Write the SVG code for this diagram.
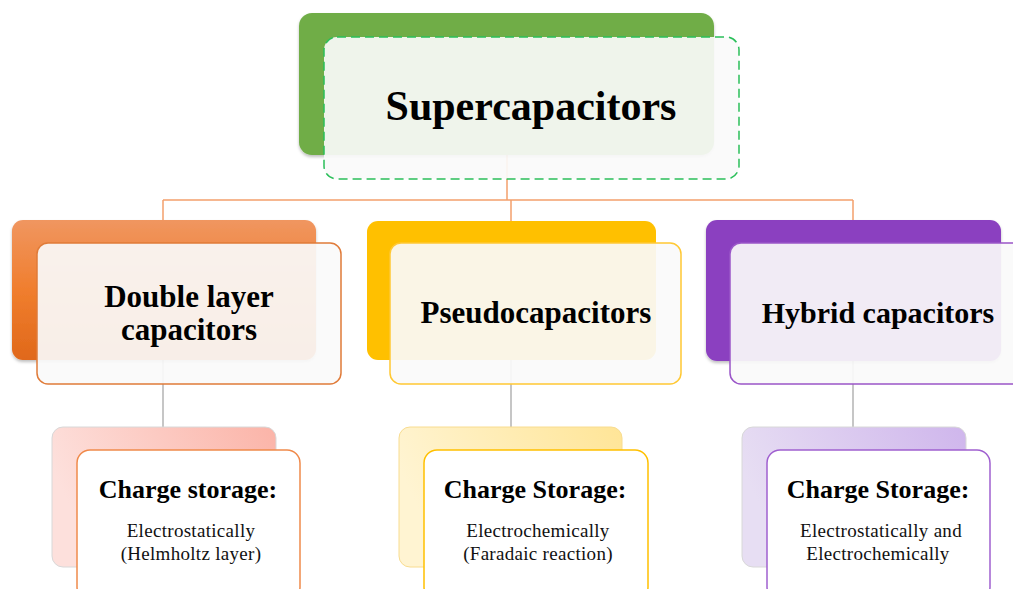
<svg xmlns="http://www.w3.org/2000/svg" width="1013" height="589" viewBox="0 0 1013 589">
<defs>
<linearGradient id="gOrange" x1="0" y1="0" x2="0" y2="1"><stop offset="0" stop-color="#f09660"/><stop offset="0.5" stop-color="#f07e2e"/><stop offset="1" stop-color="#e0681a"/></linearGradient>
<linearGradient id="gPink" x1="0" y1="0.3" x2="1" y2="0"><stop offset="0" stop-color="#fde0dc"/><stop offset="1" stop-color="#fbb4a8"/></linearGradient>
<linearGradient id="gYellow" x1="0" y1="0.3" x2="1" y2="0"><stop offset="0" stop-color="#fff4d2"/><stop offset="1" stop-color="#ffe597"/></linearGradient>
<linearGradient id="gPurple" x1="0" y1="0.3" x2="1" y2="0"><stop offset="0" stop-color="#e7def3"/><stop offset="1" stop-color="#cfb6ec"/></linearGradient>
<filter id="sh" x="-5%" y="-5%" width="110%" height="115%"><feDropShadow dx="0" dy="2" stdDeviation="1.5" flood-color="#000" flood-opacity="0.25"/></filter>
</defs>
<style>
.front{fill:#fafafa;fill-opacity:0.92;stroke-width:1.5}
.f3{fill:#ffffff;stroke-width:1.5}
.t1{font-family:"Liberation Serif","Times New Roman",serif;font-weight:bold;fill:#000;text-anchor:middle}
.t3{font-family:"Liberation Serif","Times New Roman",serif;fill:#111;text-anchor:middle;font-size:19px;letter-spacing:0.3px}
.c1{fill:none;stroke:#f4a06c;stroke-width:1.5}
.c2{fill:none;stroke:#b4b4b4;stroke-width:1.5}
</style>
<g id="connectors">
<path class="c1" d="M507,150 V200 M163,200 H853 M163,200 V222 M511,200 V222 M853,200 V222"/>
<path class="c2" d="M163,360 V428 M511,360 V428 M853,360 V428"/>
</g>
<g id="supercapacitors">
<rect x="299" y="13" width="415" height="142" rx="13" fill="#70ad47" filter="url(#sh)"/>
<rect x="324" y="37" width="415" height="142" rx="13" class="front" stroke="#2bbf5a" stroke-dasharray="9,5"/>
<text class="t1" x="531" y="120" font-size="42">Supercapacitors</text>
</g>
<g id="double-layer">
<rect x="12" y="220" width="304" height="140" rx="11" fill="url(#gOrange)" filter="url(#sh)"/>
<rect x="37" y="243" width="304" height="141" rx="11" class="front" stroke="#e07b39"/>
<text class="t1" x="189" y="307" font-size="31">Double layer</text>
<text class="t1" x="189" y="340" font-size="31">capacitors</text>
</g>
<g id="pseudo">
<rect x="367" y="221" width="289" height="139" rx="11" fill="#ffc000"/>
<rect x="390" y="243" width="291" height="141" rx="11" class="front" stroke="#ffc833"/>
<text class="t1" x="536" y="323" font-size="31">Pseudocapacitors</text>
</g>
<g id="hybrid">
<rect x="706" y="220" width="295" height="141" rx="11" fill="#8b41c0" filter="url(#sh)"/>
<rect x="730" y="243" width="300" height="141" rx="11" class="front" stroke="#9a55c8"/>
<text class="t1" x="878" y="323" font-size="30">Hybrid capacitors</text>
</g>
<g id="storage-left">
<rect x="52" y="427" width="224" height="140" rx="11" fill="url(#gPink)" stroke="#d8d8d8"/>
<rect x="77" y="450" width="223" height="150" rx="13" class="f3" stroke="#f08a4b"/>
<text class="t1" x="188" y="498" font-size="26">Charge storage:</text>
<text class="t3" x="191" y="537">Electrostatically</text>
<text class="t3" x="191" y="560">(Helmholtz layer)</text>
</g>
<g id="storage-middle">
<rect x="399" y="427" width="223" height="140" rx="11" fill="url(#gYellow)" stroke="#f8dc90"/>
<rect x="424" y="450" width="224" height="150" rx="13" class="f3" stroke="#ffc000"/>
<text class="t1" x="535" y="498" font-size="26">Charge Storage:</text>
<text class="t3" x="538" y="537">Electrochemically</text>
<text class="t3" x="538" y="560">(Faradaic reaction)</text>
</g>
<g id="storage-right">
<rect x="742" y="427" width="224" height="140" rx="11" fill="url(#gPurple)" stroke="#d8d8d8"/>
<rect x="767" y="450" width="223" height="150" rx="13" class="f3" stroke="#a060d0"/>
<text class="t1" x="878" y="498" font-size="26">Charge Storage:</text>
<text class="t3" x="881" y="537">Electrostatically and</text>
<text class="t3" x="878" y="560">Electrochemically</text>
</g>
</svg>
